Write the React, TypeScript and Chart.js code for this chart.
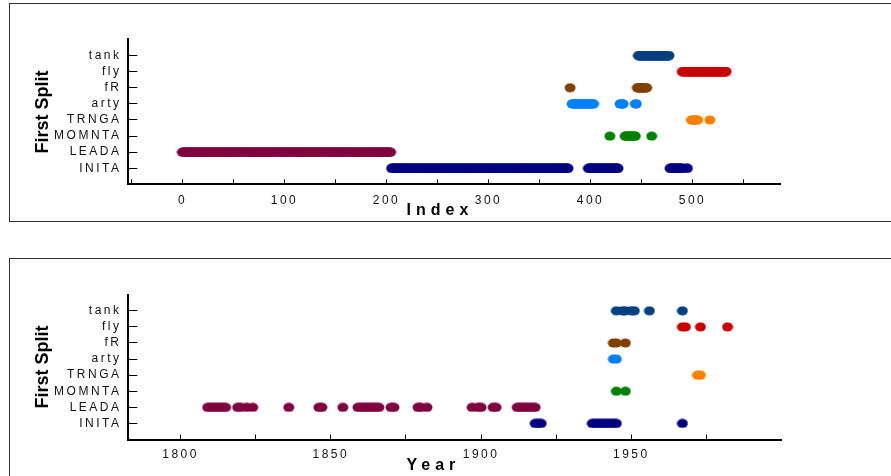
import React, { useEffect, useRef } from 'react';
import { Chart, registerables } from 'chart.js';

Chart.register(...registerables);

// ---- categories (bottom to top) ----
const categories = ['INITA', 'LEADA', 'MOMNTA', 'TRNGA', 'arty', 'fR', 'fly', 'tank'];
const categoryColors = ['#000080', '#800040', '#008000', '#ff8000', '#0080ff', '#804000', '#c80000', '#004080'];

// ---- top panel: runs of consecutive row indices [first, last] per category ----
const indexINITA = [[205, 378], [398, 427], [478, 490], [494, 495]];
const indexLEADA = [[0, 204]];
const indexMOMNTA = [[419, 419], [434, 444], [460, 460]];
const indexTRNGA = [[499, 505], [517, 517]];
const indexArty = [[382, 403], [429, 432], [444, 445]];
const indexFR = [[380, 380], [446, 455]];
const indexFly = [[490, 533]];
const indexTank = [[447, 477]];

// ---- bottom panel: years per category ----
const yearINITA = [1918, 1919, 1920, 1937, 1938, 1939, 1940, 1941, 1942, 1943, 1944, 1945, 1967];
const yearLEADA = [1809, 1810, 1811, 1812, 1813, 1814, 1815, 1819, 1820, 1822, 1824, 1836, 1846, 1847, 1854,
  1859, 1860, 1861, 1862, 1863, 1864, 1865, 1866, 1870, 1871, 1879, 1880, 1882, 1897, 1899, 1900,
  1904, 1905, 1912, 1913, 1914, 1915, 1916, 1917, 1918];
const yearMOMNTA = [1945, 1948];
const yearTRNGA = [1972, 1973];
const yearArty = [1944, 1945];
const yearFR = [1944, 1945, 1948];
const yearFly = [1967, 1968, 1973, 1982];
const yearTank = [1945, 1947, 1948, 1950, 1951, 1956, 1967];

// ---- axes ----
const indexTicks = [-50, 0, 50, 100, 150, 200, 250, 300, 350, 400, 450, 500, 550];
const indexTickLabels = ['', '0', '', '100', '', '200', '', '300', '', '400', '', '500', ''];
const yearTicks = [1800, 1825, 1850, 1875, 1900, 1925, 1950, 1975];
const yearTickLabels = ['1800', '', '1850', '', '1900', '', '1950', ''];
const indexRange = [-53.1, 585.8];
const yearRange = [1782.6, 1999.8];
const categoryTicks = [0, 1, 2, 3, 4, 5, 6, 7];

const yTitle = 'First Split';
const indexTitle = 'Index';
const yearTitle = 'Year';

const indexRuns = [indexINITA, indexLEADA, indexMOMNTA, indexTRNGA, indexArty, indexFR, indexFly, indexTank];
const yearLists = [yearINITA, yearLEADA, yearMOMNTA, yearTRNGA, yearArty, yearFR, yearFly, yearTank];

const FONT = '"Liberation Sans", Arial, Helvetica, sans-serif';

function makeDot(color: string) {
  const c = document.createElement('canvas');
  c.width = 12;
  c.height = 10;
  const g = c.getContext('2d')!;
  g.fillStyle = color;
  g.beginPath();
  g.ellipse(6, 5, 5.5, 4.5, 0, 0, Math.PI * 2);
  g.fill();
  return c;
}

const axisTextPlugin = {
  id: 'axisText',
  beforeDraw(chart: any) {
    (chart.ctx as any).letterSpacing = '2.5px';
  },
  afterDraw(chart: any, _args: any, opts: any) {
    const ctx = chart.ctx as any;
    const a = chart.chartArea;
    ctx.save();
    ctx.letterSpacing = '5px';
    ctx.font = 'bold 16px ' + FONT;
    ctx.fillStyle = '#000';
    ctx.textAlign = 'left';
    ctx.textBaseline = 'alphabetic';
    ctx.fillText(opts.xTitle, a.left + 278.2, a.bottom + 30.6);
    ctx.letterSpacing = '0px';
    ctx.font = 'bold 18px ' + FONT;
    ctx.translate(43, (a.top + a.bottom) / 2);
    ctx.rotate(-Math.PI / 2);
    ctx.textAlign = 'center';
    ctx.textBaseline = 'middle';
    ctx.fillText(opts.yTitle, 0, 0);
    ctx.restore();
  },
};

function buildConfig(
  datasets: any[],
  range: number[],
  ticks: number[],
  labels: string[],
  xTitle: string,
  pad: { top: number; bottom: number; right: number },
  labelPad: number
): any {
  return {
    type: 'scatter',
    data: { datasets },
    options: {
      responsive: false,
      animation: false,
      devicePixelRatio: 1,
      events: [],
      layout: { padding: { left: 28.3, top: pad.top, right: pad.right, bottom: pad.bottom } },
      plugins: {
        legend: { display: false },
        tooltip: { enabled: false },
        axisText: { xTitle, yTitle },
      },
      scales: {
        x: {
          type: 'linear',
          min: range[0],
          max: range[1],
          afterFit: (s: any) => { s.height = 40; },
          afterBuildTicks: (s: any) => { s.ticks = ticks.map((v) => ({ value: v })); },
          ticks: {
            autoSkip: false,
            maxRotation: 0,
            minRotation: 0,
            padding: labelPad,
            color: '#111',
            font: { family: FONT, size: 12 },
            callback: (_v: any, i: number) => labels[i],
          },
          grid: { display: true, drawOnChartArea: false, drawTicks: true, tickLength: -5, tickWidth: 1, tickColor: '#000' },
          border: { display: true, width: 2, color: '#000' },
        },
        y: {
          type: 'linear',
          min: -1,
          max: 8,
          afterFit: (s: any) => { s.width = 100; },
          afterBuildTicks: (s: any) => { s.ticks = categoryTicks.map((v) => ({ value: v })); },
          ticks: {
            autoSkip: false,
            padding: 15.8,
            color: '#111',
            font: { family: FONT, size: 12 },
            callback: (v: any) => categories[v] ?? '',
          },
          grid: { display: true, drawOnChartArea: false, drawTicks: true, tickLength: -9, tickWidth: 1, tickColor: '#000' },
          border: { display: true, width: 2, color: '#000' },
        },
      },
    },
    plugins: [axisTextPlugin],
  };
}

export default function App() {
  const topRef = useRef<HTMLCanvasElement>(null);
  const botRef = useRef<HTMLCanvasElement>(null);

  useEffect(() => {
    const dots = categoryColors.map(makeDot);
    const topSets = categories.map((name, ci) => ({
      label: name,
      data: indexRuns[ci].flatMap(([a, b]) => {
        const pts: { x: number; y: number }[] = [];
        for (let v = a; v <= b; v++) pts.push({ x: v, y: ci });
        return pts;
      }),
      pointStyle: dots[ci],
      pointRadius: 5,
      backgroundColor: categoryColors[ci],
      borderWidth: 0,
    }));
    const botSets = categories.map((name, ci) => ({
      label: name,
      data: yearLists[ci].map((yr) => ({ x: yr, y: ci })),
      pointStyle: dots[ci],
      pointRadius: 5,
      backgroundColor: categoryColors[ci],
      borderWidth: 0,
    }));
    const c1 = new Chart(topRef.current!, buildConfig(topSets, indexRange, indexTicks, indexTickLabels, indexTitle,
      { top: 39.4, bottom: 240 - 184.4 - 40, right: 891 - 780 }, 14));
    const c2 = new Chart(botRef.current!, buildConfig(botSets, yearRange, yearTicks, yearTickLabels, yearTitle,
      { top: 40.7, bottom: 240 - 185.5 - 40, right: 891 - 781 }, 13.3));
    return () => { c1.destroy(); c2.destroy(); };
  }, []);

  return (
    <div style={{ position: 'fixed', left: 0, top: 0, width: 891, height: 476, overflow: 'hidden', background: '#fff' }}>
      <div style={{ position: 'absolute', left: 9, top: 3, width: 900, height: 219, border: '1px solid #333', boxSizing: 'border-box' }} />
      <div style={{ position: 'absolute', left: 9, top: 258, width: 900, height: 219, border: '1px solid #333', boxSizing: 'border-box' }} />
      <canvas ref={topRef} width={891} height={240} style={{ position: 'absolute', left: 0, top: 0 }} />
      <canvas ref={botRef} width={891} height={240} style={{ position: 'absolute', left: 0, top: 254 }} />
    </div>
  );
}
